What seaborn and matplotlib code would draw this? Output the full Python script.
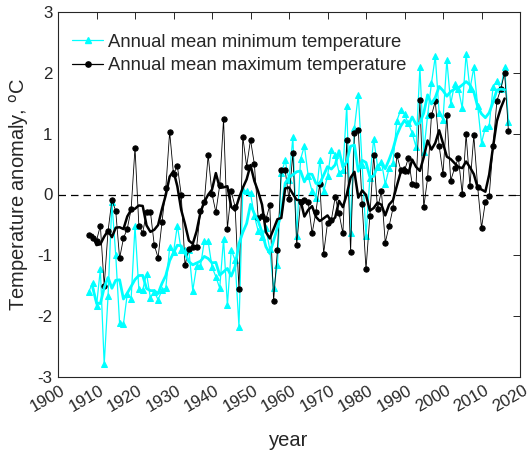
import numpy as np
import pandas as pd
import matplotlib
matplotlib.use("Agg")
import matplotlib.pyplot as plt
import seaborn as sns
from matplotlib.lines import Line2D
import matplotlib.transforms as mtransforms

years = list(range(1908, 2018))

tmin = [-1.60, -1.45, -1.83, -1.23, -2.79, -1.67, -0.13, -1.00, -2.12, -2.13,
        -1.63, -1.71, -0.52, -1.56, -1.57, -1.30, -1.70, -1.60, -1.73, -1.57,
        -1.54, -0.87, -0.95, -0.51, -0.92, -0.92, -0.92, -1.58, -1.18, -1.18,
        -0.77, -0.77, -1.19, -1.35, -1.54, -0.73, -1.82, -0.91, -1.08, -2.17,
        0.07, 0.05, 0.02, -0.35, -0.60, -0.70, -0.55, -0.90, -1.54, -1.16,
        0.35, 0.56, 0.24, 0.94, -0.69, 0.58, 0.80, 0.30, 0.05, -0.05,
        0.56, 0.05, 0.30, 0.73, 0.65, 0.36, 0.40, 1.46, -0.63, 1.10,
        1.64, 0.49, -0.69, 0.27, 0.92, 0.46, 0.54, 0.17, 0.43, 0.52,
        1.21, 1.39, 1.32, 1.17, 1.01, 0.78, 2.09, 0.70, 1.30, 1.83,
        2.27, 1.34, 1.23, 2.21, 1.49, 1.81, 1.73, 1.42, 2.31, 1.73,
        2.09, 1.46, 0.85, 1.10, 1.13, 1.77, 1.87, 1.73, 2.09, 1.20]

tmax = [-0.67, -0.72, -0.76, -0.51, -1.50, -0.60, -0.09, -0.27, -1.05, -0.72,
        -0.56, -0.24, 0.77, -0.51, -0.63, -0.29, -0.28, -0.83, -1.04, -0.46,
        0.10, 1.03, 0.33, 0.47, 0.00, -1.16, -0.90, -0.86, -0.87, -0.27,
        -0.12, 0.65, 0.01, -0.29, 0.15, 1.24, -0.56, 0.05, -0.20, -1.56,
        0.95, 0.46, 0.90, 0.50, -0.39, -0.36, -0.41, -0.18, -1.75, -0.91,
        0.41, 0.40, -0.08, 0.68, -0.83, -0.12, -0.09, -0.13, -0.64, -0.28,
        0.18, -0.97, -0.47, -0.42, -0.04, -0.31, -0.64, 0.89, -0.94, 1.01,
        1.06, -0.16, -1.23, -0.35, 0.65, -0.24, 0.06, -0.79, -0.52, -0.23,
        0.65, 0.41, 0.39, 0.60, 0.17, 0.16, 1.55, -0.21, 0.27, 1.30,
        1.53, 0.80, 0.34, 1.31, 0.23, 0.43, 0.60, 0.01, 0.99, 0.14,
        0.97, 0.13, -0.55, -0.12, -0.02, 0.79, 1.54, 1.73, 2.00, 1.04]

labels = ["Annual mean minimum temperature", "Annual mean maximum temperature"]
xticks = list(range(1900, 2021, 10))
yticks = list(range(-3, 4))

df = pd.DataFrame({"year": years, "tmin": tmin, "tmax": tmax})
df["tmin_s"] = df["tmin"].rolling(5, center=True, min_periods=4).mean()
df["tmax_s"] = df["tmax"].rolling(5, center=True, min_periods=4).mean()

sns.set_style("white")
plt.rcParams["font.family"] = ["Liberation Sans", "DejaVu Sans"]
plt.rcParams["axes.unicode_minus"] = False

fig = plt.figure(figsize=(5.29, 4.54), dpi=100)
ax = fig.add_axes([58/529, 1-377/454, (520-58)/529, (377-12)/454])

cyan = "#00FFFF"
dark = "#262626"

ax.axhline(0, color="black", lw=0.9, ls=(0, (6, 4)), zorder=1)

sns.lineplot(data=df, x="year", y="tmin", ax=ax, color=cyan, lw=0.9,
             marker="^", markersize=4.3, markeredgecolor=cyan, markerfacecolor=cyan,
             zorder=2)
sns.lineplot(data=df, x="year", y="tmax", ax=ax, color="black", lw=0.6,
             marker="o", markersize=3.8, markeredgecolor="black", markerfacecolor="black",
             zorder=3)
sns.lineplot(data=df, x="year", y="tmin_s", ax=ax, color=cyan, lw=2.0, zorder=4)
sns.lineplot(data=df, x="year", y="tmax_s", ax=ax, color="black", lw=1.8, zorder=5)

ax.set_xlim(1900, 2020)
ax.set_ylim(-3, 3)
ax.set_xticks(xticks)
ax.set_yticks(yticks)
ax.set_xticklabels([str(t) for t in xticks], rotation=30, ha="center")
ax.tick_params(direction="in", length=5, width=0.7, top=True, right=True,
               labelsize=12.2, colors=dark, pad=4)
shift = mtransforms.ScaledTranslation(-10/100, 0, fig.dpi_scale_trans)
for lab in ax.get_xticklabels():
    lab.set_transform(lab.get_transform() + shift)
for s in ax.spines.values():
    s.set_visible(True)
    s.set_color(dark)
    s.set_linewidth(0.8)

ax.set_xlabel("year", fontsize=14.5, color=dark, labelpad=12)
ax.set_ylabel("Temperature anomaly, $^{\\mathrm{o}}$C", fontsize=14.5, color=dark)
ax.yaxis.set_label_coords(-0.058, 0.5)

handles = [
    Line2D([], [], color=cyan, lw=0.9, marker="^", markersize=4.3, markerfacecolor=cyan),
    Line2D([], [], color="black", lw=0.9, marker="o", markersize=3.8, markerfacecolor="black"),
]
ax.legend(handles, labels, loc="upper left", bbox_to_anchor=(0.03, 0.94),
          frameon=False, fontsize=13.3, handlelength=1.7, handletextpad=0.25,
          labelspacing=0.35, borderaxespad=0, borderpad=0)

fig.savefig("out.png", dpi=100)
